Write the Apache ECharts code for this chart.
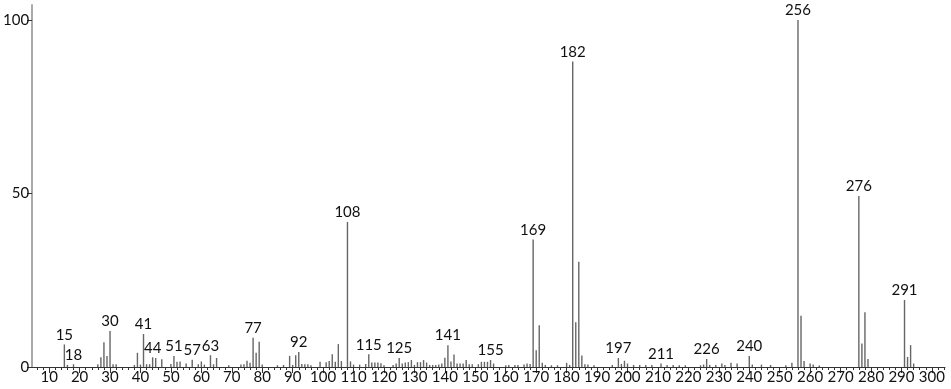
<!DOCTYPE html>
<html>
<head>
<meta charset="utf-8">
<script src="https://cdn.jsdelivr.net/npm/echarts@6/dist/echarts.min.js"></script>
<style>html,body{margin:0;padding:0;background:#fff}#c{width:951px;height:389px}</style>
</head>
<body>
<div id="c"></div>
<script>
const mz = [15,16,18,26,27,28,29,30,31,32,38,39,40,41,42,43,44,45,47,50,51,52,53,55,57,59,60,61,63,64,65,69,73,74,75,76,77,78,79,80,85,87,89,90,91,92,93,94,95,96,99,101,102,103,104,105,106,108,109,110,112,114,115,116,117,118,119,120,123,124,125,126,127,128,129,130,131,132,133,134,135,136,137,138,139,140,141,142,143,144,145,146,147,148,149,151,152,153,154,155,156,160,161,163,164,166,167,168,169,170,171,172,173,175,177,180,181,182,183,184,185,186,187,189,195,197,198,199,200,202,204,206,208,211,213,215,217,219,224,225,226,227,229,231,232,234,236,240,241,244,247,252,254,256,257,258,260,261,263,276,277,278,279,291,292,293,294];
const intensity = [6.5,0.6,0.8,0.8,2.8,7.1,3.2,10.4,0.8,0.8,0.6,4.1,0.7,9.5,0.8,0.8,2.8,2.6,2.2,0.9,3.2,1.5,1.6,1.0,2.1,0.8,1.6,0.7,3.4,0.8,2.6,0.5,0.7,0.8,1.8,1.2,8.4,4.1,7.3,0.7,0.5,0.6,3.2,0.6,3.4,4.3,0.9,0.8,0.8,0.5,1.5,1.4,1.7,3.7,1.5,6.6,1.7,41.8,1.6,0.7,0.7,0.9,3.7,1.3,1.3,1.3,1.1,0.5,0.6,1.0,2.6,1.0,1.3,1.4,2.0,0.6,1.4,1.4,2.0,1.3,0.6,0.6,0.6,0.7,1.0,2.7,6.3,1.6,3.6,1.0,1.0,1.0,2.0,0.8,0.8,0.8,1.5,1.5,1.5,2.0,1.0,0.5,0.6,0.6,0.6,0.7,1.0,0.9,36.7,4.8,12.0,1.2,0.6,0.5,0.5,1.2,0.6,88,12.9,30.3,3.3,0.8,0.7,0.5,0.6,2.6,0.9,1.8,1.0,0.6,0.6,0.6,0.6,1.0,0.6,0.6,0.5,0.5,0.5,0.7,2.3,0.6,0.6,1.0,0.6,1.2,1.0,3.2,0.7,0.7,0.6,0.5,1.2,100,14.8,1.7,1.0,0.7,0.4,49.3,6.8,15.8,2.3,19.3,2.9,6.3,1.0];
const labeled = [15,18,30,41,44,51,57,63,77,92,108,115,125,141,155,169,182,197,211,226,240,256,276,291];
const xMajorTicks = [10,20,30,40,50,60,70,80,90,100,110,120,130,140,150,160,170,180,190,200,210,220,230,240,250,260,270,280,290,300];
const yTicks = [0,50,100];

const minorTicks = [];
for (let v = 6; v <= 304; v += 2) minorTicks.push(v);

const FONT = 'Lato';
const data = mz.map((m, i) => {
  const item = { value: [m, intensity[i]] };
  if (labeled.includes(m)) {
    item.label = { show: true };
  }
  return item;
});

const chart = echarts.init(document.getElementById('c'), null, { renderer: 'canvas' });
chart.setOption({
  animation: false,
  grid: { left: 28, right: 6, top: 5, bottom: 22 },
  xAxis: [
    {
      type: 'value', min: 4.4, max: 304.3,
      axisLine: { lineStyle: { color: '#333', width: 1 } },
      axisTick: { customValues: xMajorTicks, length: 6, lineStyle: { color: '#333' } },
      axisLabel: { customValues: xMajorTicks, color: '#111', fontFamily: FONT, fontSize: 15, margin: 3 },
      splitLine: { show: false }
    },
    {
      type: 'value', min: 4.4, max: 304.3, position: 'bottom',
      axisLine: { show: false },
      axisTick: { customValues: minorTicks, length: 3, lineStyle: { color: '#333' } },
      axisLabel: { show: false },
      splitLine: { show: false }
    }
  ],
  yAxis: {
    type: 'value', min: 0, max: 104.3,
    axisLine: { show: true, lineStyle: { color: '#aaa', width: 2 } },
    axisTick: { show: true, customValues: yTicks, length: 5, lineStyle: { color: '#333' } },
    axisLabel: { customValues: yTicks, color: '#111', fontFamily: FONT, fontSize: 15, margin: 3 },
    splitLine: { show: false }
  },
  series: [{
    type: 'bar',
    xAxisIndex: 0,
    barWidth: 1.4,
    itemStyle: { color: '#666' },
    label: {
      show: false, position: 'top', distance: 2,
      color: '#111', fontFamily: FONT, fontSize: 15,
      formatter: p => String(p.value[0])
    },
    data: data
  }]
});
</script>
</body>
</html>
